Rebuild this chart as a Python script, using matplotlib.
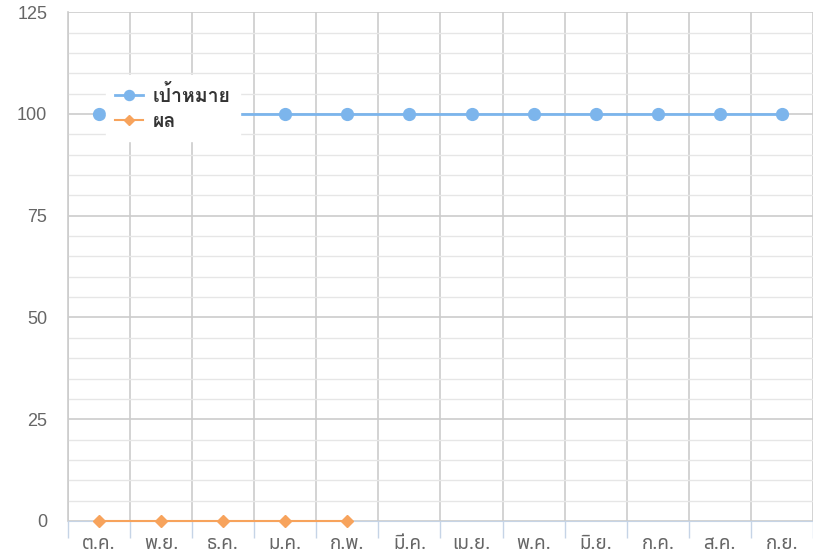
import numpy as np
import matplotlib
matplotlib.use("Agg")
import matplotlib.pyplot as plt
from matplotlib import font_manager
from matplotlib.ticker import MultipleLocator, FixedLocator

months = ["ต.ค.", "พ.ย.", "ธ.ค.", "ม.ค.", "ก.พ.", "มี.ค.",
          "เม.ย.", "พ.ค.", "มิ.ย.", "ก.ค.", "ส.ค.", "ก.ย."]
target = [100, 100, 100, 100, 100, 100, 100, 100, 100, 100, 100, 100]
result = [0, 0, 0, 0, 0, None, None, None, None, None, None, None]
target_label = "เป้าหมาย"
result_label = "ผล"

# ฟอนต์ไทยที่มีในเครื่อง
installed = {f.name for f in font_manager.fontManager.ttflist}
tick_fonts = [n for n in ["Noto Sans Thai", "Loma", "Waree"] if n in installed]
legend_fonts = [n for n in ["Loma", "Noto Sans Thai", "Waree"] if n in installed]
plt.rcParams["font.family"] = tick_fonts[:1] + ["Liberation Sans", "DejaVu Sans"]

fig = plt.figure(figsize=(8.13, 5.56), dpi=100)
ax = fig.add_axes([0.0836, 0.063, 0.9164, 0.915])

x = np.arange(len(months))
res = np.array([np.nan if v is None else v for v in result], dtype=float)

ax.plot(x, target, color="#7cb5ec", lw=2, marker="o", ms=8.5, label=target_label, zorder=3, clip_on=False)
ax.plot(x, res, color="#f7a35c", lw=1.5, marker="D", ms=6, label=result_label, zorder=4, clip_on=False)

ax.set_xlim(-0.5, len(months) - 0.5)
ax.set_ylim(0, 125)

ax.set_xticks(x)
ax.set_xticklabels(months)
ax.xaxis.set_minor_locator(FixedLocator(np.arange(-0.5, len(months), 1)))
ax.tick_params(axis="x", which="major", length=0, pad=10, labelsize=13.5, labelcolor="#666666")
ax.tick_params(axis="x", which="minor", length=12, color="#c6d4e6", width=1)

ax.yaxis.set_major_locator(MultipleLocator(25))
ax.yaxis.set_minor_locator(MultipleLocator(5))
ax.tick_params(axis="y", which="both", length=0, pad=15, labelsize=13, labelcolor="#666666")
for lab in ax.get_yticklabels():
    lab.set_family(["Liberation Sans", "DejaVu Sans"])

ax.grid(axis="x", which="minor", color="#cccccc", lw=1.2)
ax.grid(axis="y", which="major", color="#cccccc", lw=1.2)
ax.grid(axis="y", which="minor", color="#e6e6e6", lw=1)
ax.set_axisbelow(True)

for s in ["top", "right"]:
    ax.spines[s].set_visible(False)
ax.spines["left"].set_color("#cccccc")
ax.spines["left"].set_linewidth(1.2)
ax.spines["bottom"].set_color("#c6d4e6")

leg = ax.legend(loc="upper left", bbox_to_anchor=(0.0506, 0.876), borderaxespad=0,
                frameon=True, fancybox=False, edgecolor="white", framealpha=1,
                prop={"size": 14, "weight": "bold",
                      "family": legend_fonts[:1] + ["Liberation Sans", "DejaVu Sans"]},
                handlelength=1.4, markerscale=0.85,
                handletextpad=0.5, borderpad=0.5, labelspacing=0.35)
for t in leg.get_texts():
    t.set_color("#333333")
leg.set_zorder(10)

fig.savefig("out.png", dpi=100)
